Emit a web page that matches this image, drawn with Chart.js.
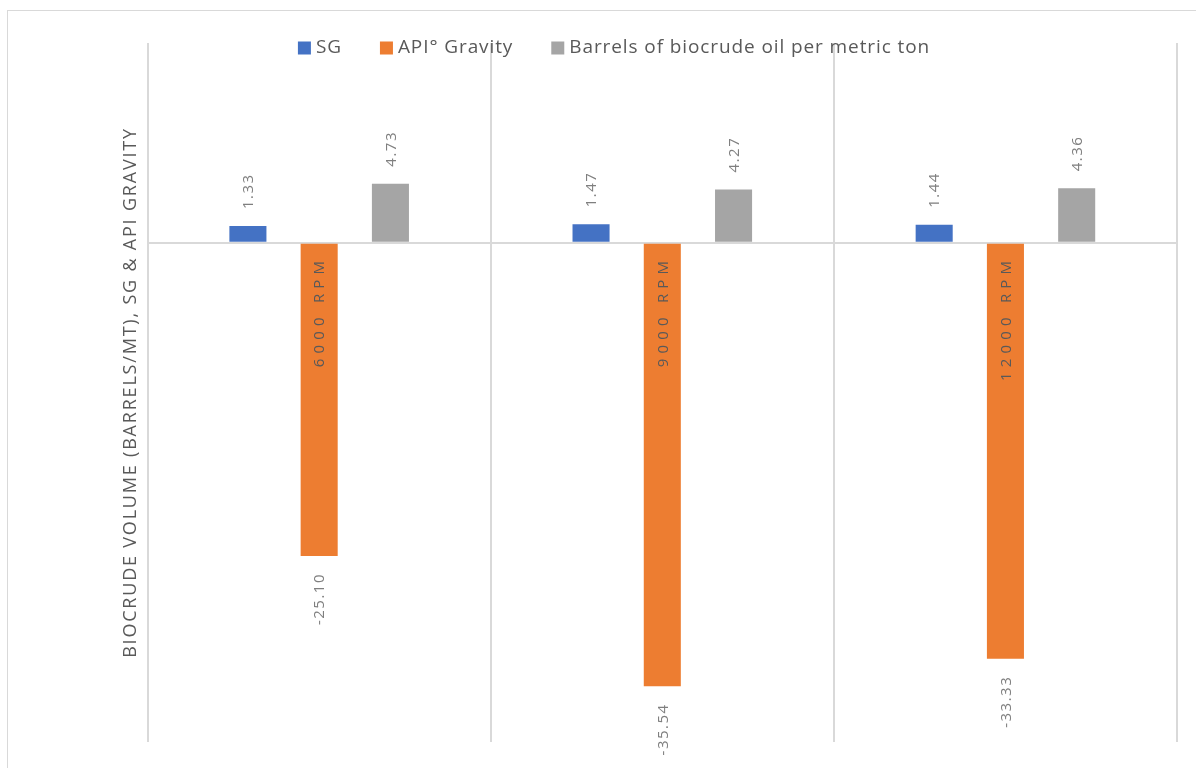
<!DOCTYPE html>
<html lang="en">
<head>
  <meta charset="UTF-8" />
  <title>Biocrude properties</title>
  <script src="https://cdn.jsdelivr.net/npm/chart.js"></script>
  <style>
    html, body { margin: 0; padding: 0; background: #fff; overflow: hidden; }
    .frame { position: absolute; left: 7px; top: 10px; width: 1300px; height: 900px; border: 1px solid #d9d9d9; }
    .wrap { position: absolute; left: 0; top: 0; width: 1196px; height: 768px; }
  </style>
</head>
<body>
  <div class="frame"></div>
  <div class="wrap"><canvas id="chart" width="1196" height="768"></canvas></div>

  <script>
    const categories = ['6000 RPM', '9000 RPM', '12000 RPM'];
    const sgValues = [1.33, 1.47, 1.44];
    const apiValues = [-25.10, -35.54, -33.33];
    const barrelValues = [4.73, 4.27, 4.36];
    const seriesNames = ['SG', 'API° Gravity', 'Barrels of biocrude oil per metric ton'];
    const seriesColors = ['#4472C4', '#ED7D31', '#A5A5A5'];
    const yTitle = 'BIOCRUDE VOLUME (BARRELS/MT), SG & API GRAVITY';

    const FONT = '"Open Sans", "Liberation Sans", sans-serif';

    // Excel text is spaced out a bit; the axis title picks this up
    const spacingPlugin = {
      id: 'spacing',
      beforeDraw(chart) {
        chart.ctx.letterSpacing = '1.8px';
      }
    };

    // value labels + category names, drawn rotated like the Excel original
    const labelsPlugin = {
      id: 'barLabels',
      afterDatasetsDraw(chart) {
        const ctx = chart.ctx;
        const zero = chart.scales.y.getPixelForValue(0);
        ctx.save();
        ctx.font = '15px ' + FONT;
        ctx.textBaseline = 'middle';
        ctx.fillStyle = '#7f7f7f';
        ctx.letterSpacing = '1.5px';
        chart.data.datasets.forEach((ds, i) => {
          chart.getDatasetMeta(i).data.forEach((bar, j) => {
            const v = ds.data[j];
            ctx.save();
            ctx.translate(bar.x + 1, v >= 0 ? bar.y - 17 : bar.y + 17);
            ctx.rotate(-Math.PI / 2);
            ctx.textAlign = v >= 0 ? 'left' : 'right';
            ctx.fillText(v.toFixed(2), 0, 0);
            ctx.restore();
          });
        });

        ctx.fillStyle = '#595959';
        ctx.letterSpacing = '5.2px';
        categories.forEach((c, i) => {
          const x = chart.scales.x.getPixelForValue(i);
          ctx.save();
          ctx.translate(x + 1, zero + 13);
          ctx.rotate(-Math.PI / 2);
          ctx.textAlign = 'right';
          ctx.fillText(c, 0, 0);
          ctx.restore();
        });
        ctx.restore();
      }
    };

    // legend sits on top of the plot area, so draw it by hand
    const legendPlugin = {
      id: 'topLegend',
      afterDraw(chart) {
        const ctx = chart.ctx;
        const box = 13, gapText = 5, gapItem = 38, cy = 48;
        ctx.save();
        ctx.font = '19px ' + FONT;
        ctx.letterSpacing = '0.9px';
        ctx.textBaseline = 'middle';
        ctx.textAlign = 'left';
        const items = chart.data.datasets.map(ds => ({
          label: ds.label,
          color: ds.backgroundColor,
          w: box + gapText + ctx.measureText(ds.label).width
        }));
        const total = items.reduce((a, it) => a + it.w, 0) + gapItem * (items.length - 1);
        let x = 614 - total / 2;
        items.forEach(it => {
          ctx.fillStyle = it.color;
          ctx.fillRect(x, cy - box / 2, box, box);
          ctx.fillStyle = '#595959';
          ctx.fillText(it.label, x + box + gapText, cy);
          x += it.w + gapItem;
        });
        ctx.restore();
      }
    };

    const seriesData = [sgValues, apiValues, barrelValues];

    new Chart(document.getElementById('chart'), {
      type: 'bar',
      data: {
        labels: categories,
        datasets: seriesNames.map((name, i) => ({
          label: name,
          data: seriesData[i],
          backgroundColor: seriesColors[i],
          barPercentage: 0.52,
          categoryPercentage: 0.623
        }))
      },
      options: {
        responsive: false,
        animation: false,
        devicePixelRatio: 1,
        layout: { padding: { left: 118, right: 19, top: 43, bottom: 26 } },
        plugins: {
          legend: { display: false },
          tooltip: { enabled: false }
        },
        scales: {
          x: {
            ticks: { display: false },
            grid: { color: '#d9d9d9', lineWidth: 2, drawTicks: false },
            border: { display: false }
          },
          y: {
            min: -40,
            max: 16,
            ticks: { display: false, stepSize: 8 },
            grid: {
              drawTicks: false,
              lineWidth: 2,
              color: c => (c.tick && c.tick.value === 0 ? '#d9d9d9' : 'rgba(0,0,0,0)')
            },
            border: { display: false },
            title: {
              display: true,
              text: yTitle,
              color: '#595959',
              font: { family: FONT, size: 18 },
              padding: { top: 2, bottom: 6 }
            }
          }
        }
      },
      plugins: [spacingPlugin, labelsPlugin, legendPlugin]
    });
  </script>
</body>
</html>
